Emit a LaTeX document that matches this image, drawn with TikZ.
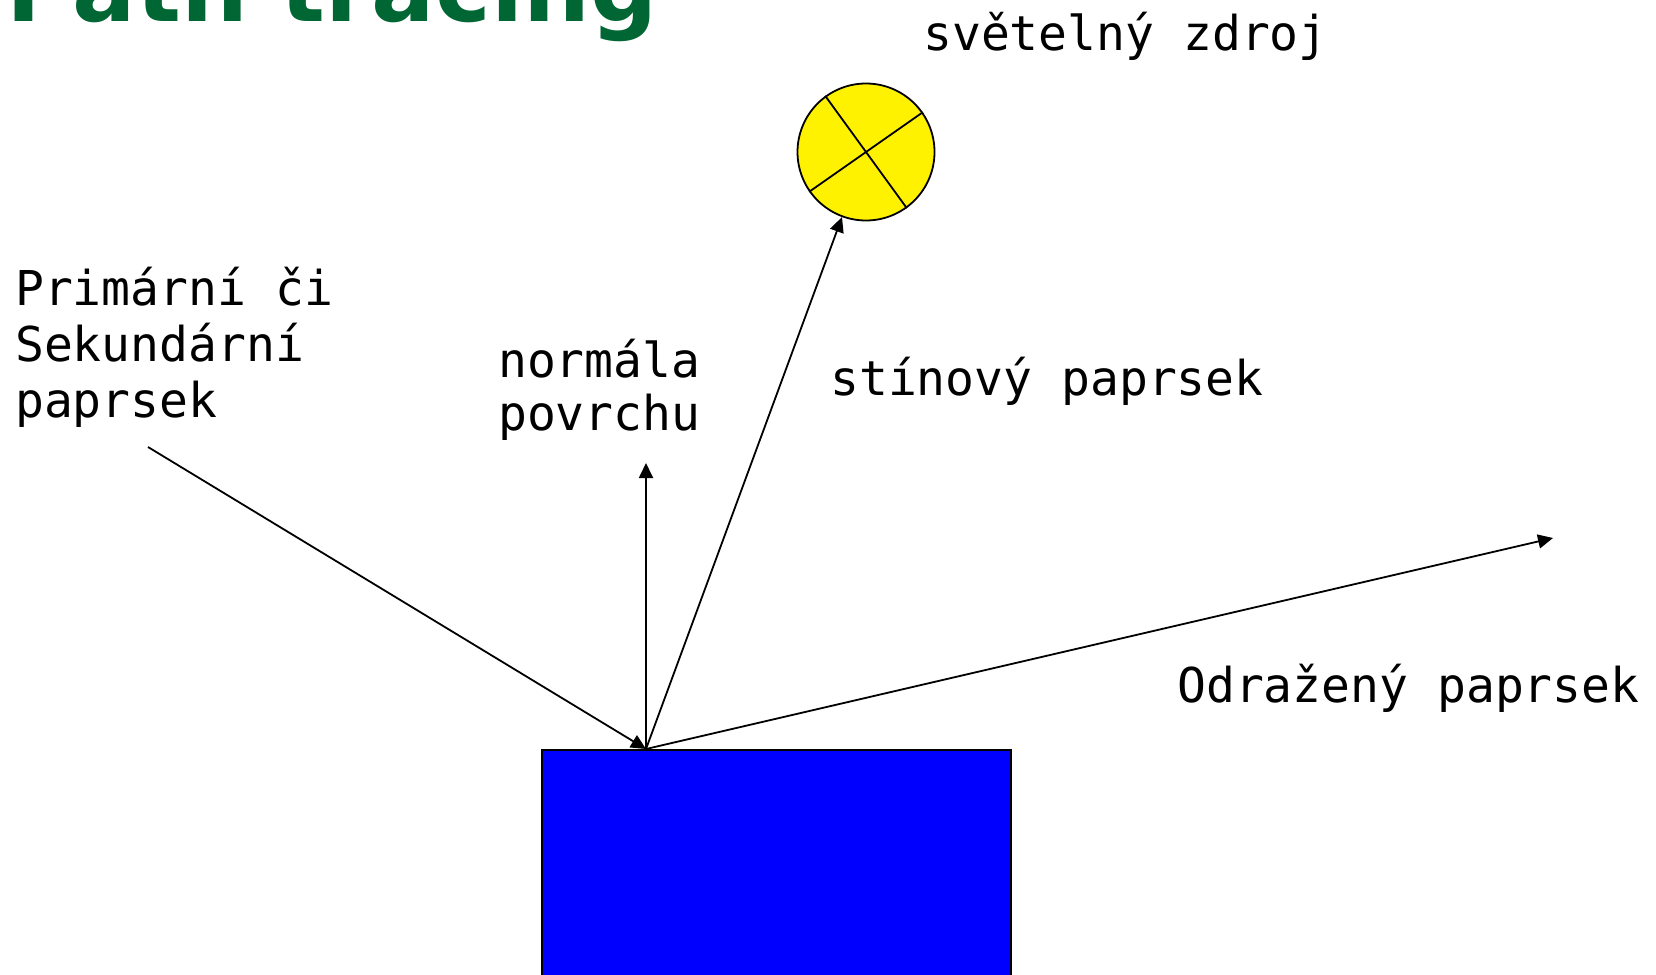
\documentclass[tikz,border=0pt]{standalone}
\usepackage{fontspec}
\setmonofont{DejaVu Sans Mono}
\newfontfamily\titlefont{DejaVu Sans}
\usetikzlibrary{arrows.meta}
\definecolor{titlegreen}{HTML}{006633}

\begin{document}
\begin{tikzpicture}[
        x=1pt, y=-1pt,
        >={Triangle[length=15pt,width=14pt]},
        ray/.style={line width=1.8pt},
        label/.style={
            font=\fontsize{48}{56}\selectfont\ttfamily,
            anchor=base west,
            align=left,
            inner sep=0pt
        }
    ]
    \useasboundingbox (0,0) rectangle (1656,974);

    \node[font=\fontsize{94}{94}\selectfont\titlefont\bfseries, text=titlegreen, anchor=base west, inner sep=0pt] (title) at (6,22) {Path tracing};

    \node[draw=black, line width=1.5pt, fill=blue, anchor=north west, minimum width=469pt, minimum height=260pt, inner sep=0pt] (surface) at (541,749) {};
    \node[circle, draw=black, line width=1.8pt, fill=yellow, minimum size=137pt, inner sep=0pt] (light) at (866,152) {};
    \draw[ray] (light.126) -- (light.306);
    \draw[ray] (light.215) -- (light.35);

    \coordinate (hit) at (646,749);
    \coordinate (src) at (148,447);
    \coordinate (normtip) at (646,463);
    \coordinate (refltip) at (1553,538);

    \draw[ray, ->] (src) -- (hit);
    \draw[ray, ->] (hit) -- (normtip);
    \draw[ray, ->] (hit) -- (light);
    \draw[ray, ->] (hit) -- (refltip);

    % base of a multi-line label is its last line
    \node[label] (lightlbl) at (923,51) {světelný zdroj};
    \node[label] (srclbl) at (15,417) {Primární či\\Sekundární\\paprsek};
    \node[label, font=\fontsize{48}{53}\selectfont\ttfamily] (normlbl) at (498,430) {normála\\povrchu};
    \node[label] (shadowlbl) at (830,395) {stínový paprsek};
    \node[label] (refllbl) at (1177,702) {Odražený paprsek};

\end{tikzpicture}
\end{document}
